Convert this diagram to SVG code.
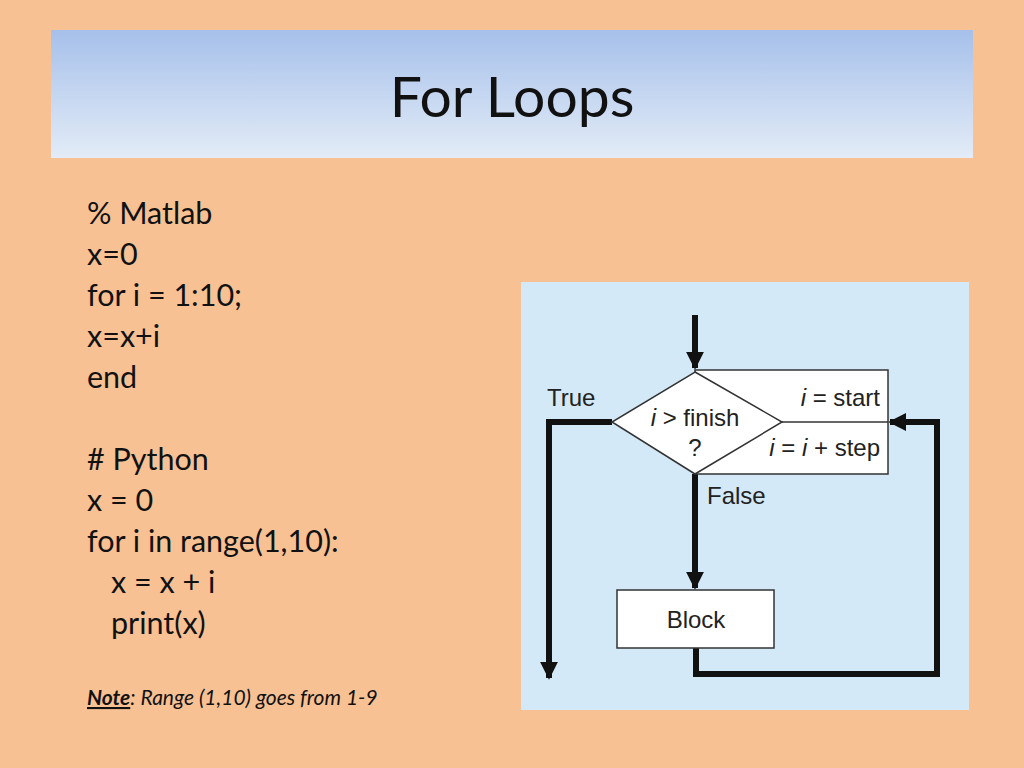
<svg xmlns="http://www.w3.org/2000/svg" width="1024" height="768" viewBox="0 0 1024 768">
<defs>
<linearGradient id="hg" x1="0" y1="0" x2="0" y2="1"><stop offset="0" stop-color="#A6C0EA"/><stop offset="1" stop-color="#E3ECF7"/></linearGradient>
<marker id="ah" viewBox="0 0 10 10" refX="9" refY="5" markerWidth="3" markerHeight="4.5" orient="auto" markerUnits="strokeWidth"><path d="M0,0 L10,5 L0,10 z" fill="#111"/></marker>
<style>
.code{font-family:Lato,"Liberation Sans",sans-serif;font-size:30.5px;fill:#111}
.fc{font-family:"Liberation Sans",Arial,sans-serif;font-size:24px;fill:#222}
.ln{fill:none;stroke:#111;stroke-width:6}
.box{fill:#fff;stroke:#333;stroke-width:1.5}
</style>
</defs>
<rect width="1024" height="768" fill="#F8C193"/>
<rect x="51" y="30" width="922" height="128" fill="url(#hg)"/>
<text x="512" y="117" text-anchor="middle" font-family="Lato,'Liberation Sans',sans-serif" font-size="57" fill="#111">For Loops</text>
<g class="code">
<text x="87" y="224">% Matlab</text>
<text x="87" y="265">x=0</text>
<text x="87" y="306">for i = 1:10;</text>
<text x="87" y="347">x=x+i</text>
<text x="87" y="388">end</text>
<text x="87" y="470"># Python</text>
<text x="87" y="511">x = 0</text>
<text x="87" y="552">for i in range(1,10):</text>
<text x="111" y="593">x = x + i</text>
<text x="111" y="634">print(x)</text>
</g>
<text x="87" y="705" font-family="Lato,'Liberation Sans',sans-serif" font-size="21" font-style="italic" fill="#111"><tspan font-weight="bold" text-decoration="underline">Note</tspan>: Range (1,10) goes from 1-9</text>
<rect x="521" y="282" width="448" height="428" fill="#D3E9F8"/>
<g id="connectors">
<path class="ln" d="M695,315 V368" marker-end="url(#ah)"/>
<path class="ln" d="M612,422 H549 V678" marker-end="url(#ah)"/>
<path class="ln" d="M695,474 V588" marker-end="url(#ah)"/>
<path class="ln" d="M696,648 V674 H937 V422 H890" marker-end="url(#ah)"/>
</g>
<g id="init">
<rect class="box" x="695" y="370" width="193" height="104"/>
<line x1="782" y1="422" x2="888" y2="422" stroke="#333" stroke-width="1.5"/>
<text class="fc" x="880" y="406" text-anchor="end"><tspan font-style="italic">i</tspan> = start</text>
<text class="fc" x="880" y="456" text-anchor="end"><tspan font-style="italic">i</tspan> = <tspan font-style="italic">i</tspan> + step</text>
</g>
<g id="decision">
<polygon class="box" points="695,372 782,422 695,474 612,422"/>
<text class="fc" x="695" y="426" text-anchor="middle"><tspan font-style="italic">i</tspan> &gt; finish</text>
<text class="fc" x="695" y="456" text-anchor="middle">?</text>
</g>
<text class="fc" x="547" y="406">True</text>
<text class="fc" x="707" y="504">False</text>
<g id="block">
<rect class="box" x="617" y="590" width="157" height="58"/>
<text class="fc" x="696" y="628" text-anchor="middle">Block</text>
</g>
</svg>
